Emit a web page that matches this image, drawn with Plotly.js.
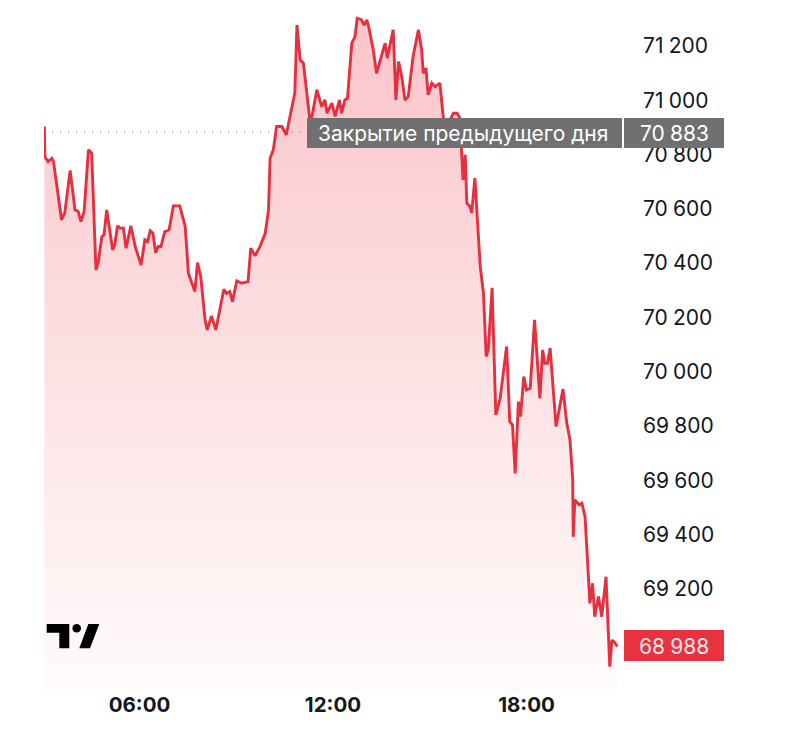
<!DOCTYPE html>
<html>
<head>
<meta charset="utf-8">
<script src="https://cdn.plot.ly/plotly-3.0.1.min.js"></script>
<style>html,body{margin:0;padding:0;background:#fff;}#chart{width:800px;height:729px;}</style>
</head>
<body>
<div id="chart"></div>
<script>
const day = '2024-05-20';
const times = [
 '03:03','03:04','03:10','03:17','03:20','03:26','03:35','03:41','03:51','04:00',
 '04:06','04:11','04:17','04:25','04:31','04:39','04:43','04:50','04:54','04:59',
 '05:10','05:14','05:19','05:24','05:30','05:35','05:44','05:52','06:03','06:10',
 '06:15','06:20','06:25','06:30','06:35','06:40','06:47','06:55','07:03','07:15',
 '07:25','07:31','07:37','07:43','07:48','07:54','08:02','08:06','08:14','08:22',
 '08:37','08:42','08:48','08:53','09:01','09:10','09:22','09:27','09:35','09:44',
 '09:54','10:00','10:03','10:09','10:15','10:25','10:33','10:43','10:49','10:53',
 '10:59','11:05','11:08','11:18','11:30','11:39','11:45','11:49','11:58','12:04',
 '12:12','12:16','12:22','12:27','12:35','12:41','12:45','12:53','12:58','13:03',
 '13:07','13:15','13:21','13:31','13:37','13:41','13:46','13:52','13:57','14:02',
 '14:08','14:14','14:20','14:29','14:39','14:45','14:48','14:53','14:57','15:04',
 '15:10','15:19','15:25','15:30','15:44','15:51','15:56','15:59','16:02','16:06',
 '16:09','16:15','16:18','16:24','16:27','16:34','16:40','16:45','16:49','16:56',
 '17:03','17:11','17:23','17:29','17:34','17:39','17:45','17:49','17:55','18:00',
 '18:07','18:15','18:25','18:30','18:34','18:39','18:44','18:55','19:08','19:15',
 '19:21','19:26','19:27','19:30','19:38','19:43','19:49','19:58','20:03','20:07',
 '20:14','20:20','20:28','20:32','20:35','20:39','20:43','20:49'
];
const prices = [
 70903,70792,70774,70786,70774,70694,70559,70585,70741,70596,
 70590,70553,70590,70817,70805,70375,70400,70498,70504,70596,
 70449,70467,70537,70529,70529,70455,70537,70461,70393,70486,
 70479,70519,70510,70439,70461,70461,70516,70522,70611,70611,
 70535,70363,70332,70295,70402,70350,70191,70154,70206,70154,
 70304,70289,70295,70258,70335,70326,70332,70455,70427,70461,
 70510,70596,70786,70817,70903,70903,70872,70964,71026,71277,
 71148,71136,71087,70909,71038,70976,71001,70952,70989,70940,
 71001,70952,71001,71007,71210,71234,71302,71296,71277,71296,
 71265,71185,71099,71173,71210,71155,71197,71259,71001,71142,
 71087,71001,71013,71161,71259,71185,71099,71118,71020,71063,
 71050,71063,70940,70898,70952,70952,70935,70817,70706,70799,
 70622,70608,70585,70713,70608,70387,70289,70056,70080,70309,
 69841,69902,70093,69816,69804,69626,69890,69835,69982,69933,
 69939,70191,69902,70080,70031,70031,70087,69798,69936,69810,
 69749,69602,69392,69528,69510,69516,69466,69147,69221,69098,
 69172,69098,69245,69012,68914,69012,69006,68988
];
const yTicks = [69200,69400,69600,69800,70000,70200,70400,70600,70800,71000,71200];
const xTickLabels = ['06:00','12:00','18:00'];
const prevClose = 70883;
const lastPrice = 68988;
const prevCloseLabel = 'Закрытие предыдущего дня';

const fmt = v => String(v).replace(/\B(?=(\d{3})+(?!\d))/g, '\u2005');

// pixel -> paper helpers (plot area: left 44, right 632, top 0, bottom 690)
const PL = 44, PW = 588, PB = 690, PH = 690;
const px = x => (x - PL) / PW;
const py = y => (PB - y) / PH;

const x = times.map(t => day + ' ' + t);

const trace = {
  type: 'scatter', mode: 'lines', x: x, y: prices,
  line: {color: '#e5303f', width: 2.9},
  fill: 'tozeroy',
  fillgradient: {
    type: 'vertical',
    start: 68828, stop: 71300,
    colorscale: [[0, 'rgba(240,60,75,0.02)'], [1, 'rgba(240,60,75,0.30)']]
  },
  hoverinfo: 'skip'
};

const rectPath = pts => 'M' + pts.map(p => px(p[0]) + ',' + py(p[1])).join(' L') + ' Z';

const shapes = [
  {type: 'line', xref: 'paper', yref: 'y', x0: 0, x1: px(620), y0: prevClose, y1: prevClose,
   line: {color: '#8a8a8a', width: 1.2, dash: '1px,7px'}, layer: 'below'},
  {type: 'rect', xref: 'paper', yref: 'paper', x0: px(307), x1: px(622), y0: py(148), y1: py(118),
   fillcolor: 'rgb(112,112,112)', line: {width: 0}, layer: 'above'},
  {type: 'rect', xref: 'paper', yref: 'paper', x0: px(624), x1: px(724), y0: py(148), y1: py(118),
   fillcolor: 'rgb(112,112,112)', line: {width: 0}, layer: 'above'},
  {type: 'rect', xref: 'paper', yref: 'paper', x0: px(624), x1: px(724), y0: py(661), y1: py(630),
   fillcolor: '#e8323f', line: {width: 0}, layer: 'above'},
  // TradingView logo
  {type: 'path', xref: 'paper', yref: 'paper',
   path: rectPath([[46.7,624],[69.3,624],[69.3,648.3],[59.3,648.3],[59.3,632.7],[46.7,632.7]]),
   fillcolor: '#000', line: {width: 0}},
  {type: 'circle', xref: 'paper', yref: 'paper', x0: px(72.4), x1: px(81), y0: py(632.6), y1: py(624),
   fillcolor: '#000', line: {width: 0}},
  {type: 'path', xref: 'paper', yref: 'paper',
   path: rectPath([[88.3,624],[99.3,624],[90,648.3],[79.3,648.3]]),
   fillcolor: '#000', line: {width: 0}}
];

const annFont = {family: 'Inter, Roboto, sans-serif', size: 21, color: '#ffffff'};
const annotations = [
  {xref: 'paper', yref: 'paper', x: px(316), y: py(133), xanchor: 'left', yanchor: 'middle',
   text: prevCloseLabel, showarrow: false, font: annFont},
  {xref: 'paper', yref: 'paper', x: px(674), y: py(133), xanchor: 'center', yanchor: 'middle',
   text: fmt(prevClose), showarrow: false, font: annFont},
  {xref: 'paper', yref: 'paper', x: px(674), y: py(646), xanchor: 'center', yanchor: 'middle',
   text: fmt(lastPrice), showarrow: false, font: Object.assign({}, annFont, {color: '#ffe4e6'})}
];

const layout = {
  width: 800, height: 729,
  margin: {l: PL, r: 800 - PL - PW, t: 0, b: 729 - PB},
  paper_bgcolor: '#ffffff', plot_bgcolor: '#ffffff',
  showlegend: false,
  xaxis: {
    type: 'date',
    range: [day + ' 03:02:20', day + ' 21:16:20'],
    tickvals: xTickLabels.map(t => day + ' ' + t),
    ticktext: xTickLabels,
    showgrid: false, zeroline: false, showline: false, ticks: '',
    tickfont: {family: 'Inter, Roboto, sans-serif', size: 20.5, color: '#131722', weight: 700}
  },
  yaxis: {
    side: 'right',
    range: [68828, 71369],
    tickvals: yTicks,
    ticktext: yTicks.map(fmt),
    showgrid: false, zeroline: false, showline: false, ticks: '',
    ticklabelstandoff: 10,
    tickfont: {family: 'Inter, Roboto, sans-serif', size: 21, color: '#131722'}
  },
  shapes: shapes,
  annotations: annotations
};

Plotly.newPlot('chart', [trace], layout, {displayModeBar: false, staticPlot: true});
</script>
</body>
</html>
